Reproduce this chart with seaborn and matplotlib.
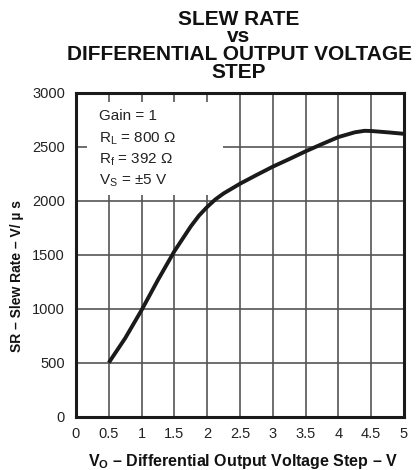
import matplotlib
matplotlib.use("Agg")
import matplotlib.pyplot as plt
import seaborn as sns
import pandas as pd
from matplotlib.patches import Rectangle

# Data
vo_step = [0.5, 0.75, 1.0, 1.25, 1.5, 1.75, 1.875, 2.0, 2.125, 2.25, 2.5,
           2.75, 3.0, 3.25, 3.5, 3.75, 4.0, 4.25, 4.4, 4.5, 4.75, 5.0]
slew_rate = [503, 730, 990, 1270, 1535, 1765, 1865, 1945, 2015, 2070, 2160,
             2240, 2318, 2388, 2460, 2527, 2592, 2636, 2650, 2648, 2636, 2622]
x_ticks = [0, 0.5, 1, 1.5, 2, 2.5, 3, 3.5, 4, 4.5, 5]
x_tick_labels = ["0", "0.5", "1", "1.5", "2", "2.5", "3", "3.5", "4", "4.5", "5"]
y_ticks = [0, 500, 1000, 1500, 2000, 2500, 3000]
y_tick_labels = ["0", "500", "1000", "1500", "2000", "2500", "3000"]
title_lines = ["SLEW RATE", "vs", "DIFFERENTIAL OUTPUT VOLTAGE", "STEP"]
notes = ["Gain = 1", "R$_\\mathregular{L}$ = 800 Ω", "R$_\\mathregular{f}$ = 392 Ω",
         "V$_\\mathregular{S}$ = ±5 V"]

sns.set_style("white")
plt.rcParams["font.family"] = ["Liberation Sans", "DejaVu Sans"]
plt.rcParams["mathtext.fontset"] = "custom"
plt.rcParams["mathtext.rm"] = "Liberation Sans"
plt.rcParams["mathtext.bf"] = "Liberation Sans:bold"

fig = plt.figure(figsize=(4.18, 4.70), dpi=100)
W, H = 418, 470
ax = fig.add_axes([76 / W, 1 - 417 / H, (404 - 76) / W, (417 - 93) / H])

df = pd.DataFrame({"x": vo_step, "y": slew_rate})
sns.lineplot(data=df, x="x", y="y", ax=ax, color="#1a1a1a", linewidth=2.8,
             zorder=3, solid_capstyle="butt", solid_joinstyle="round")

ax.set_xlim(0, 5)
ax.set_ylim(0, 3000)
ax.set_xticks(x_ticks)
ax.set_xticklabels(x_tick_labels)
ax.set_yticks(y_ticks)
ax.set_yticklabels(y_tick_labels)
ax.tick_params(axis="both", length=0, labelsize=10.5, colors="#222222")
ax.tick_params(axis="x", pad=7)
ax.tick_params(axis="y", pad=8)
ax.set_axisbelow(True)
ax.grid(True, color="#555555", linewidth=1.2)
for s in ax.spines.values():
    s.set_visible(True)
    s.set_color("#1a1a1a")
    s.set_linewidth(2.2)

ax.set_xlabel("")
ax.set_ylabel("")

# white box behind the notes
ax.add_patch(Rectangle((0.168, 2056), 2.24 - 0.168, 2917 - 2056,
                       facecolor="white", edgecolor="none", zorder=1))
ys = [120, 142, 163, 184]
for t, yp in zip(notes, ys):
    fig.text(99 / W, 1 - yp / H, t, fontsize=11, ha="left", va="baseline",
             color="#222222")

# title (one multi-line text, tight line spacing as in the reference)
fig.text(239 / W, 1 - 10 / H, "\n".join(title_lines), fontsize=15,
         fontweight="bold", ha="center", va="top", multialignment="center",
         linespacing=0.9, color="#111111")

fig.text(243 / W, 1 - 466 / H,
         "V$_\\mathbf{O}$ – Differential Output Voltage Step – V",
         fontsize=11.5, fontweight="bold", ha="center", va="baseline",
         color="#111111")
fig.text(17 / W, 1 - 276 / H, "SR – Slew Rate – V/ µ s", fontsize=10,
         fontweight="bold", rotation=90, ha="center", va="center",
         color="#111111")

fig.savefig("out.png", dpi=100)
